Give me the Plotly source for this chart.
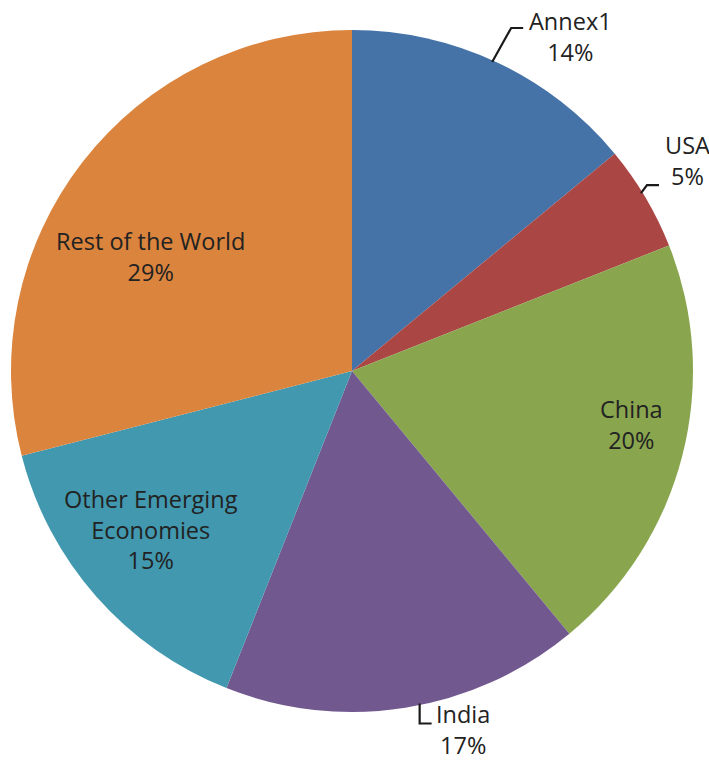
import math
import plotly.graph_objects as go

# Share of the total by region, clockwise from 12 o'clock
regions = ["Annex1", "USA", "China", "India", "Other Emerging Economies", "Rest of the World"]
shares = [14, 5, 20, 17, 15, 29]
label_lines = ["Annex1", "USA", "China", "India", "Other Emerging<br>Economies", "Rest of the World"]
colors = ["#4572A7", "#AA4643", "#89A54E", "#71588F", "#4198AF", "#DB843D"]

W, H = 709, 765
CX, CY, R = 352, 371, 341          # pie centre and radius, in pixels
FONT = "Open Sans, sans-serif"
FSIZE = 23.5
TEXT_COLOR = "#222222"

# Label placement style per region.
# inside labels: (radial fraction, angle nudge in degrees)
inside_style = {
    "China": (0.835, -3.5),
    "Other Emerging Economies": (0.75, 3.1),
    "Rest of the World": (0.68, -8.3),
}
# outside labels: angle nudge of the leader start, leader elbow offset from the rim,
# horizontal run, text offset from the leader end
outside_style = {
    "Annex1": dict(nudge=-0.8, elbow=(19, -34), run=12, text=(47, 8)),
    "USA": dict(nudge=-1.0, elbow=(6, -8), run=12, text=(29, -25)),
    "India": dict(nudge=-2.5, elbow=(0, 20), run=12, text=(31, 6)),
}


def px_to_paper(x, y):
    return x / W, 1 - y / H


def rim_point(angle_deg, frac=1.0):
    a = math.radians(angle_deg)
    return CX + frac * R * math.sin(a), CY - frac * R * math.cos(a)


total = sum(shares)
fig = go.Figure(
    go.Pie(
        labels=regions,
        values=shares,
        sort=False,
        direction="clockwise",
        rotation=0,
        marker=dict(colors=colors, line=dict(width=0)),
        textinfo="none",
        hovertemplate="%{label}: %{percent}<extra></extra>",
        domain=dict(
            x=[(CX - R) / W, (CX + R) / W],
            y=[1 - (CY + R) / H, 1 - (CY - R) / H],
        ),
        showlegend=False,
    )
)

annotations = []
shapes = []
cum = 0
for name, val, text in zip(regions, shares, label_lines):
    pct = round(100 * val / total)
    mid = 360 * (cum + val / 2) / total
    cum += val
    label = f"{text}<br>{pct}%"
    if name in inside_style:
        frac, nudge = inside_style[name]
        x, y = rim_point(mid + nudge, frac)
        px, py = px_to_paper(x, y)
        annotations.append(dict(
            x=px, y=py, xref="paper", yref="paper", text=label, showarrow=False,
            xanchor="center", yanchor="middle", align="center",
            font=dict(family=FONT, size=FSIZE, color=TEXT_COLOR),
        ))
    else:
        st = outside_style[name]
        x0, y0 = rim_point(mid + st["nudge"], 0.995)
        x1, y1 = x0 + st["elbow"][0], y0 + st["elbow"][1]
        x2, y2 = x1 + st["run"], y1
        pts = [px_to_paper(*p) for p in [(x0, y0), (x1, y1), (x2, y2)]]
        path = "M {} {} L {} {} L {} {}".format(*[c for p in pts for c in p])
        shapes.append(dict(type="path", path=path, xref="paper", yref="paper",
                           line=dict(color="#1a1a1a", width=2.2)))
        tx, ty = px_to_paper(x2 + st["text"][0], y2 + st["text"][1])
        annotations.append(dict(
            x=tx, y=ty, xref="paper", yref="paper", text=label, showarrow=False,
            xanchor="center", yanchor="middle", align="center",
            font=dict(family=FONT, size=FSIZE, color=TEXT_COLOR),
        ))

fig.update_layout(
    width=W, height=H,
    margin=dict(l=0, r=0, t=0, b=0),
    paper_bgcolor="white",
    plot_bgcolor="white",
    annotations=annotations,
    shapes=shapes,
)

fig.write_html("out.html")
